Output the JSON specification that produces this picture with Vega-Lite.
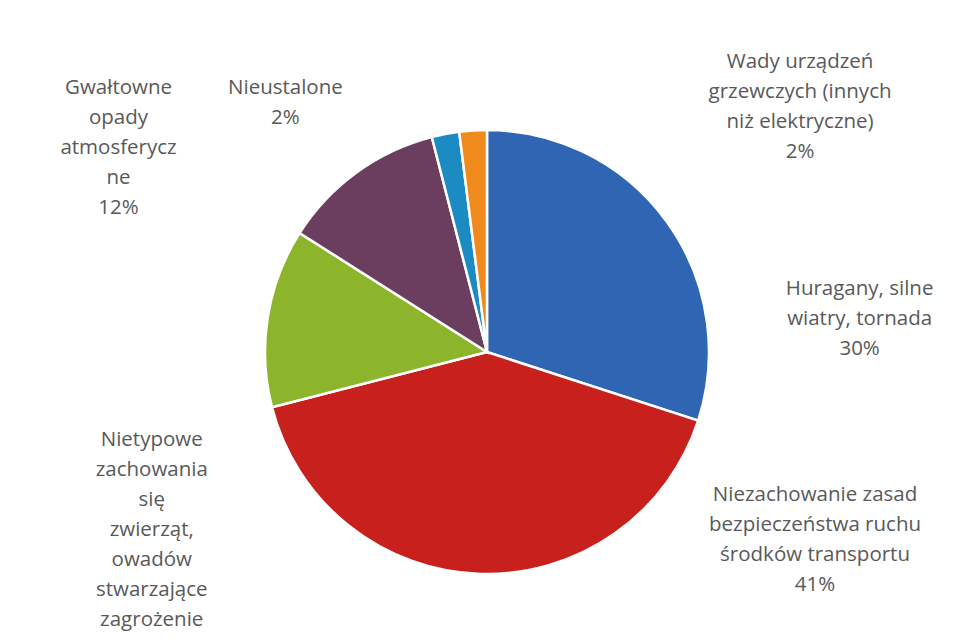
{
  "$schema": "https://vega.github.io/schema/vega-lite/v6.json",
  "width": 950,
  "height": 578,
  "autosize": {"type": "none"},
  "padding": {"left": 12, "top": 63, "right": 0, "bottom": 0},
  "background": "white",
  "config": {"view": {"stroke": null}},
  "data": {
    "values": [
      {"idx": 1, "cat": "Huragany, silne wiatry, tornada", "pct": 30, "label": "Huragany, silne\nwiatry, tornada\n30%"},
      {"idx": 2, "cat": "Niezachowanie zasad bezpieczeństwa ruchu środków transportu", "pct": 41, "label": "Niezachowanie zasad\nbezpieczeństwa ruchu\nśrodków transportu\n41%"},
      {"idx": 3, "cat": "Nietypowe zachowania się zwierząt, owadów stwarzające zagrożenie", "pct": 13, "label": "Nietypowe\nzachowania\nsię\nzwierząt,\nowadów\nstwarzające\nzagrożenie"},
      {"idx": 4, "cat": "Gwałtowne opady atmosferyczne", "pct": 12, "label": "Gwałtowne\nopady\natmosferycz\nne\n12%"},
      {"idx": 5, "cat": "Nieustalone", "pct": 2, "label": "Nieustalone\n2%"},
      {"idx": 6, "cat": "Wady urządzeń grzewczych (innych niż elektryczne)", "pct": 2, "label": "Wady urządzeń\ngrzewczych (innych\nniż elektryczne)\n2%"}
    ]
  },
  "encoding": {
    "theta": {"field": "pct", "type": "quantitative", "stack": true},
    "order": {"field": "idx", "type": "quantitative"}
  },
  "layer": [
    {
      "mark": {"type": "arc", "outerRadius": 222, "stroke": "white", "strokeWidth": 2.5},
      "encoding": {
        "color": {
          "field": "cat",
          "type": "nominal",
          "scale": {
            "domain": [
              "Huragany, silne wiatry, tornada",
              "Niezachowanie zasad bezpieczeństwa ruchu środków transportu",
              "Nietypowe zachowania się zwierząt, owadów stwarzające zagrożenie",
              "Gwałtowne opady atmosferyczne",
              "Nieustalone",
              "Wady urządzeń grzewczych (innych niż elektryczne)"
            ],
            "range": ["#2F65B3", "#C8201D", "#8DB52B", "#6B3E5F", "#1B8BC2", "#F08A1D"]
          },
          "legend": null
        }
      }
    },
    {
      "mark": {
        "type": "text",
        "radius": 222,
        "font": "Open Sans",
        "fontSize": 20.5,
        "lineHeight": 30,
        "lineBreak": "\n",
        "align": "center",
        "baseline": "middle",
        "fill": "#595959",
        "dx": {"expr": "[193, 335, -116, -238, -160, 327][datum.idx - 1]"},
        "dy": {"expr": "[67, -79, 123, -84, -46, -68][datum.idx - 1]"}
      },
      "encoding": {
        "detail": {"field": "cat", "type": "nominal"},
        "text": {"field": "label", "type": "nominal"}
      }
    }
  ]
}
